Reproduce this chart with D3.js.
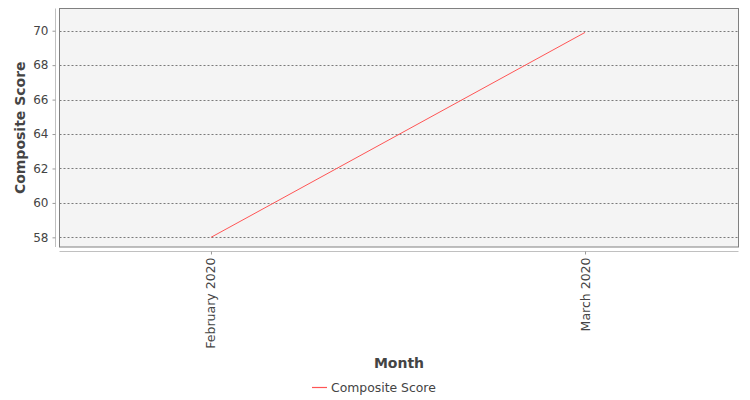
<!DOCTYPE html>
<html>
<head>
<meta charset="utf-8">
<script src="https://cdn.jsdelivr.net/npm/d3@7"></script>
<style>
  body { margin: 0; background: #fff; }
  text { font-family: "DejaVu Sans", sans-serif; fill: #444; }
</style>
</head>
<body>
<script>
var months = ["February 2020", "March 2020"];
var scores = [58.0, 69.9];
var yTicks = [58, 60, 62, 64, 66, 68, 70];
var seriesName = "Composite Score";

var width = 750;
var height = 400;

// plot area
var plotLeft = 59.5, plotTop = 8.5, plotRight = 738.5, plotBottom = 247;

var svg = d3.select("body")
    .append("svg")
    .attr("width", width)
    .attr("height", height);

// x scale (category points)
var x = d3.scalePoint()
    .domain(months)
    .range([plotLeft, plotRight - 2])
    .padding(0.405);

// y scale
var y = d3.scaleLinear()
    .domain([57.44, 71.29])
    .range([plotBottom, plotTop]);

// plot background
svg.append("rect")
    .attr("x", plotLeft)
    .attr("y", plotTop)
    .attr("width", plotRight - plotLeft)
    .attr("height", plotBottom - plotTop)
    .attr("fill", "#f4f4f4");

// grid lines
svg.append("g")
    .selectAll("line")
    .data(yTicks)
    .enter()
    .append("line")
    .attr("x1", plotLeft)
    .attr("x2", plotRight)
    .attr("y1", function(d) { return Math.round(y(d)) + 0.5; })
    .attr("y2", function(d) { return Math.round(y(d)) + 0.5; })
    .attr("stroke", "#7a7a7a")
    .attr("stroke-width", 1)
    .attr("stroke-dasharray", "2,2");

// y axis
var y_axis = d3.axisLeft(y)
    .tickValues(yTicks)
    .tickSize(3)
    .tickPadding(4);

var gy = svg.append("g")
    .attr("transform", "translate(55.5,0)")
    .call(y_axis);
gy.select(".domain").attr("stroke", "#c0c0c0").attr("d", "M0," + plotTop + "V" + plotBottom);
gy.selectAll(".tick line").attr("stroke", "#999");
gy.selectAll(".tick text")
    .style("font-size", "12px")
    .style("font-family", "DejaVu Sans, sans-serif")
    .style("fill", "#444");

// x axis
var x_axis = d3.axisBottom(x)
    .tickSize(3)
    .tickPadding(3);

var gx = svg.append("g")
    .attr("transform", "translate(0,251.5)")
    .call(x_axis);
gx.select(".domain").attr("stroke", "#c0c0c0").attr("d", "M" + plotLeft + ",0H" + plotRight);
gx.selectAll(".tick line").attr("stroke", "#999");
gx.selectAll(".tick text")
    .style("font-size", "12.5px")
    .style("font-family", "DejaVu Sans, sans-serif")
    .style("fill", "#444")
    .attr("text-anchor", "end")
    .attr("dy", null)
    .attr("transform", "translate(4,6) rotate(-90)")
    .attr("x", 0)
    .attr("y", 0);

// plot border
svg.append("rect")
    .attr("x", plotLeft)
    .attr("y", plotTop)
    .attr("width", plotRight - plotLeft)
    .attr("height", plotBottom - plotTop)
    .attr("fill", "none")
    .attr("stroke", "#808080");

// the line
var line = d3.line()
    .x(function(d, i) { return x(months[i]); })
    .y(function(d) { return y(d); });

svg.append("path")
    .datum(scores)
    .attr("d", line)
    .attr("fill", "none")
    .attr("stroke", "#ff5555")
    .attr("stroke-width", 1);

// axis titles
svg.append("text")
    .attr("transform", "translate(25," + ((plotTop + plotBottom) / 2) + ") rotate(-90)")
    .attr("text-anchor", "middle")
    .style("font-size", "14px")
    .style("font-weight", "bold")
    .text("Composite Score");

svg.append("text")
    .attr("x", (plotLeft + plotRight) / 2)
    .attr("y", 368)
    .attr("text-anchor", "middle")
    .style("font-size", "14px")
    .style("font-weight", "bold")
    .text("Month");

// legend
svg.append("line")
    .attr("x1", 312)
    .attr("x2", 327)
    .attr("y1", 387.5)
    .attr("y2", 387.5)
    .attr("stroke", "#ff5555")
    .attr("stroke-width", 1.2);

svg.append("text")
    .attr("x", 331)
    .attr("y", 391.5)
    .style("font-size", "12.4px")
    .text(seriesName);
</script>
</body>
</html>
